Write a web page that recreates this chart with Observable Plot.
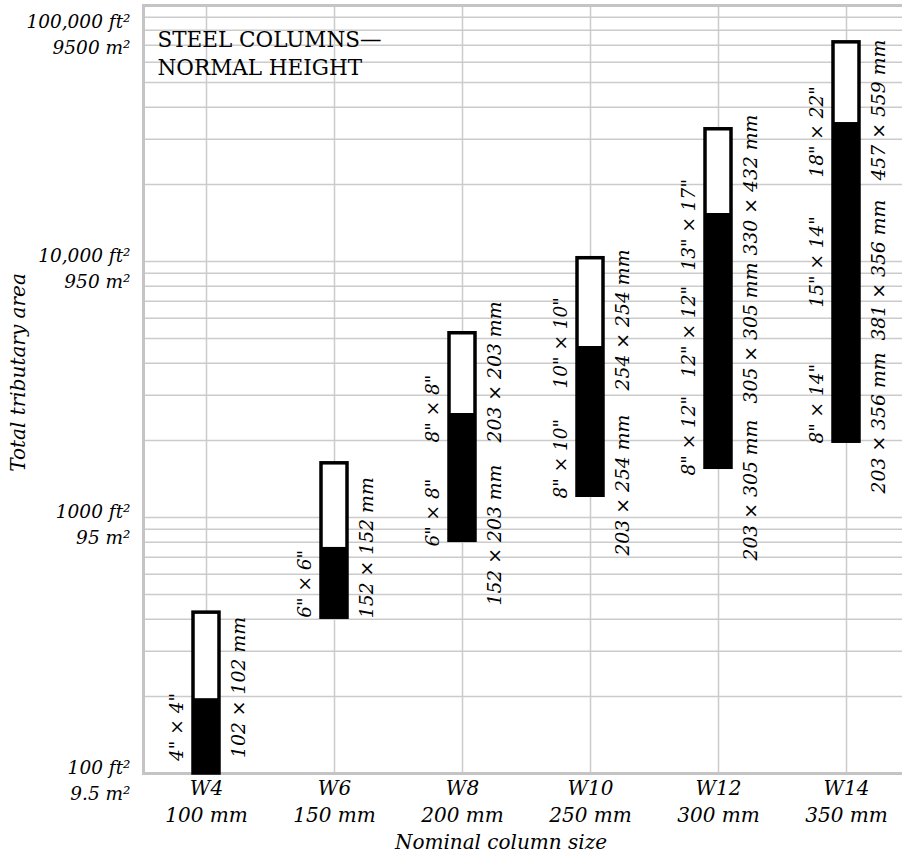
<!DOCTYPE html>
<html><head><meta charset="utf-8">
<script src="https://cdn.jsdelivr.net/npm/d3@7"></script>
<script src="https://cdn.jsdelivr.net/npm/@observablehq/plot@0.6"></script>
<style>body{margin:0;background:#fff} #chart{width:902px;height:856px;overflow:hidden}</style>
</head><body><div id="chart"></div>
<script>
// ---- data ----
const categories = ["W4", "W6", "W8", "W10", "W12", "W14"];
const metricSizes = ["100 mm", "150 mm", "200 mm", "250 mm", "300 mm", "350 mm"];
// total tributary area (ft²) covered by each nominal column size
const areaMin   = [100, 406, 811, 1216, 1564, 1977];
const areaSplit = [196, 764, 2548, 4655, 15400, 34900];
const areaMax   = [425, 1628, 5245, 10300, 32850, 71800];
// section labels: [category, text, area where the label starts]
const imperialLabels = [
  ["W4", '4" × 4"', 112],
  ["W6", '6" × 6"', 406],
  ["W8", '6" × 8"', 770],
  ["W8", '8" × 8"', 1963],
  ["W10", '8" × 10"', 1186],
  ["W10", '10" × 10"', 3190],
  ["W12", '8" × 12"', 1459],
  ["W12", '12" × 12"', 3525],
  ["W12", '13" × 17"', 9225],
  ["W14", '8" × 14"', 1945],
  ["W14", '15" × 14"', 6610],
  ["W14", '18" × 22"', 21270]
];
const metricLabels = [
  ["W4", "102 × 102 mm", 115],
  ["W6", "152 × 152 mm", 404],
  ["W8", "152 × 203 mm", 453],
  ["W8", "203 × 203 mm", 1963],
  ["W10", "203 × 254 mm", 710],
  ["W10", "254 × 254 mm", 3134],
  ["W12", "203 × 305 mm", 679],
  ["W12", "305 × 305 mm", 2788],
  ["W12", "330 × 432 mm", 10550],
  ["W14", "203 × 356 mm", 1242],
  ["W14", "381 × 356 mm", 4910],
  ["W14", "457 × 559 mm", 20700]
];
const yTickValues = [100, 1000, 10000, 100000];
const yTickFt = ["100 ft²", "1000 ft²", "10,000 ft²", "100,000 ft²"];
const yTickM = ["9.5 m²", "95 m²", "950 m²", "9500 m²"];
const gridValues = [100, 1000, 10000].flatMap(d => [1,2,3,4,5,6,7,8,9].map(k => k * d)).concat([100000]);

// ---- derived tables ----
const bars = categories.map((c, i) => ({cat: c, min: areaMin[i], split: areaSplit[i], max: areaMax[i]}));
const xLabels = categories.map((c, i) => ({cat: c, text: c + "\n" + metricSizes[i]}));
const yLabels = yTickValues.map((v, i) => ({v, text: yTickFt[i] + "\n" + yTickM[i]}));
const leftLabs = imperialLabels.map(([cat, text, at]) => ({cat, text, at}));
const rightLabs = metricLabels.map(([cat, text, at]) => ({cat, text, at}));

const FONT = "DejaVu Serif";
const grid = "#cbcbcb";

const chart = Plot.plot({
  width: 902,
  height: 856,
  marginTop: 5,
  marginBottom: 83,
  marginLeft: 143,
  marginRight: 0,
  style: {background: "white", overflow: "hidden"},
  x: {type: "band", domain: categories, range: [142, 910], paddingInner: 0.796875, paddingOuter: 0.3984375, round: false, axis: null},
  y: {type: "log", domain: [100, 100000], axis: null},
  marks: [
    Plot.ruleY(gridValues, {stroke: grid, strokeWidth: 1.5}),
    Plot.ruleX(categories, {stroke: grid, strokeWidth: 1.5}),
    Plot.frame({stroke: "#c4c4c4", strokeWidth: 3, insetRight: -6}),
    Plot.text(["STEEL COLUMNS—\nNORMAL HEIGHT"], {frameAnchor: "top-left", textAnchor: "start", lineAnchor: "top", dx: 14, dy: 22, fontFamily: FONT, fontSize: 21.5, lineHeight: 1.3, fill: "black"}),
    Plot.barY(bars, {x: "cat", y1: "min", y2: "max", fill: "white", stroke: "black", strokeWidth: 3.5}),
    Plot.barY(bars, {x: "cat", y1: "min", y2: "split", fill: "black"}),
    Plot.text(leftLabs, {x: "cat", y: "at", text: "text", rotate: -90, textAnchor: "start", lineAnchor: "middle", dx: -29, fontFamily: FONT, fontStyle: "italic", fontSize: 18.5, fill: "black"}),
    Plot.text(rightLabs, {x: "cat", y: "at", text: "text", rotate: -90, textAnchor: "start", lineAnchor: "middle", dx: 32, fontFamily: FONT, fontStyle: "italic", fontSize: 18.8, fill: "black"}),
    Plot.text(yLabels.filter(d => d.v < 100000), {y: "v", text: "text", frameAnchor: "left", textAnchor: "end", lineAnchor: "middle", dx: -13, dy: 5, fontFamily: FONT, fontStyle: "italic", fontSize: 18.5, lineHeight: 1.4, fill: "black"}),
    Plot.text(yLabels.filter(d => d.v === 100000), {y: "v", text: "text", frameAnchor: "left", textAnchor: "end", lineAnchor: "top", dx: -13, dy: 4, fontFamily: FONT, fontStyle: "italic", fontSize: 18.5, lineHeight: 1.4, fill: "black"}),
    Plot.text(xLabels, {x: "cat", text: "text", frameAnchor: "bottom", lineAnchor: "middle", dy: 26, fontFamily: FONT, fontStyle: "italic", fontSize: 20, lineHeight: 1.35, fill: "black"}),
    Plot.text(["Nominal column size"], {frameAnchor: "bottom", lineAnchor: "middle", dx: -22, dy: 69, fontFamily: FONT, fontStyle: "italic", fontSize: 20, fill: "black"}),
    Plot.text(["Total tributary area"], {frameAnchor: "left", rotate: -90, textAnchor: "middle", lineAnchor: "middle", dx: -125, dy: -17, fontFamily: FONT, fontStyle: "italic", fontSize: 20, fill: "black"})
  ]
});
document.getElementById("chart").appendChild(chart);
</script>
</body></html>
